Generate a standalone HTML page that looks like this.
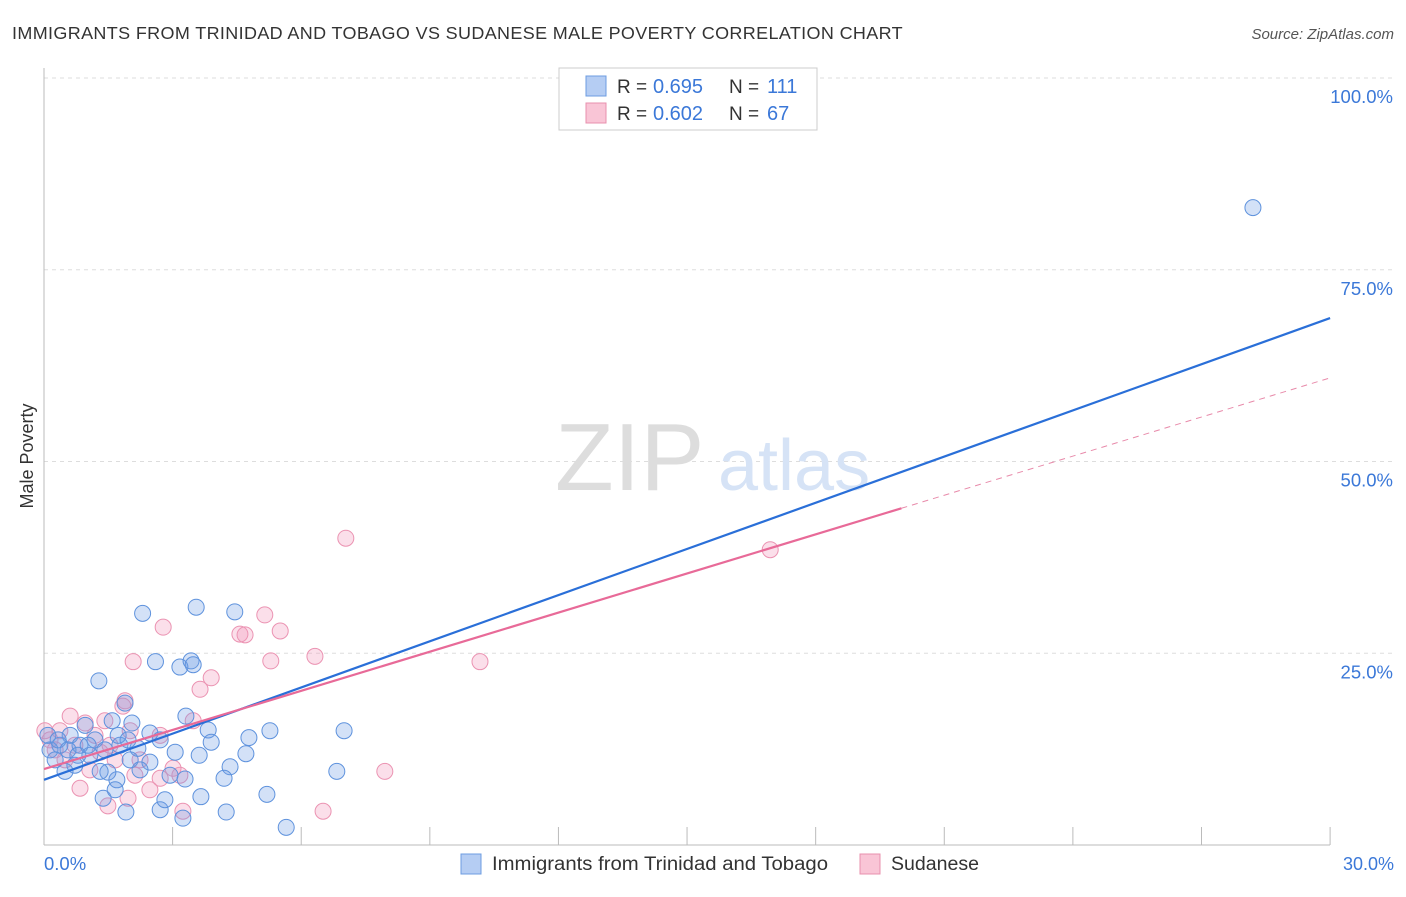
<!DOCTYPE html>
<html><head><meta charset="utf-8"><style>
body{margin:0;background:#fff;font-family:"Liberation Sans",sans-serif;}
svg text{font-family:"Liberation Sans",sans-serif;}
</style></head><body>
<svg width="1406" height="892">
<text x="12" y="39" font-size="17.5" letter-spacing="0.35" fill="#333" textLength="891" lengthAdjust="spacingAndGlyphs">IMMIGRANTS FROM TRINIDAD AND TOBAGO VS SUDANESE MALE POVERTY CORRELATION CHART</text>
<text x="1394" y="39" font-size="15" fill="#555" font-style="italic" text-anchor="end">Source: ZipAtlas.com</text>
<g id="grid"></g>
<text x="555" y="490" font-size="96" fill="#ddd" font-family="Liberation Serif,serif">ZIP</text>
<text x="718" y="490" font-size="72" fill="#d6e3f6">atlas</text>
<line x1="44" y1="68" x2="44" y2="845" stroke="#bbb"/>
<line x1="44" y1="845" x2="1330" y2="845" stroke="#bbb"/>
<text x="33" y="456" font-size="18" fill="#333" text-anchor="middle" transform="rotate(-90 33 456)">Male Poverty</text>
<text x="44" y="870" font-size="18.5" fill="#3b78d8">0.0%</text>
<text x="1394" y="870" font-size="18" fill="#3b78d8" text-anchor="end">30.0%</text>
<g id="pts"></g>
<g id="lines"></g>
<g>
<rect x="559" y="68" width="258" height="62" fill="#fff" stroke="#ccc"/>
<rect x="586" y="76" width="20" height="20" fill="#b5cdf3" stroke="#6d9ce0"/>
<rect x="586" y="103" width="20" height="20" fill="#f9c5d6" stroke="#e890ae"/>
<text x="617" y="93" font-size="19" fill="#333">R =</text>
<text x="653" y="93" font-size="20" fill="#3b78d8">0.695</text>
<text x="729" y="93" font-size="19" fill="#333">N =</text>
<text x="767" y="93" font-size="20" fill="#3b78d8">111</text>
<text x="617" y="120" font-size="19" fill="#333">R =</text>
<text x="653" y="120" font-size="20" fill="#3b78d8">0.602</text>
<text x="729" y="120" font-size="19" fill="#333">N =</text>
<text x="767" y="120" font-size="20" fill="#3b78d8">67</text>
</g>
<g>
<rect x="461" y="854" width="20" height="20" fill="#b5cdf3" stroke="#6d9ce0"/>
<text x="492" y="870" font-size="19" fill="#333" textLength="336" lengthAdjust="spacingAndGlyphs">Immigrants from Trinidad and Tobago</text>
<rect x="860" y="854" width="20" height="20" fill="#f9c5d6" stroke="#e890ae"/>
<text x="891" y="870" font-size="19" fill="#333" textLength="88" lengthAdjust="spacingAndGlyphs">Sudanese</text>
</g>
</svg>
<script>
const yTicks=[25,50,75,100];
const yTickLabels=["25.0%","50.0%","75.0%","100.0%"];
const xTicks=[0,3,6,9,12,15,18,21,24,27,30];
const blueX=[28.2,2.3,3.55,4.45,2.6,3.17,3.43,3.48,1.28,1.89,3.31,3.83,5.27,7.0,4.78,3.9,4.71,3.62,4.34,6.83,4.2,5.2,3.66,4.25,5.65,3.24,2.71,1.91,1.38,1.70,1.49,2.94,2.47,2.19,2.05,1.59,0.96,0.61,0.37,0.14,0.26,0.72,1.07,1.19,1.77,2.71,3.06,1.31,0.49,0.84,2.01,1.66,3.29,2.82,2.24,0.09,0.33,0.56,0.79,1.03,1.42,1.73,1.96,2.47];
const blueY=[83.1,30.2,31.0,30.4,23.9,23.2,24.0,23.5,21.4,18.5,16.8,15.0,14.9,14.9,14.0,13.4,11.9,11.7,10.2,9.6,8.7,6.6,6.3,4.3,2.3,3.5,4.6,4.3,6.1,8.5,9.5,9.1,10.8,12.6,15.9,16.2,15.6,14.3,13.0,12.4,11.1,10.4,11.7,13.7,13.0,13.7,12.1,9.6,9.6,13.0,11.1,7.2,8.6,5.9,9.8,14.3,13.7,12.4,11.7,13.0,12.4,14.3,13.7,14.6];
const pinkX=[7.04,16.94,5.15,2.78,4.57,4.69,5.51,2.08,5.29,6.32,10.17,3.90,3.64,1.89,1.84,3.48,7.95,6.51,3.24,1.96,1.49,0.84,2.47,2.71,3.01,2.24,1.31,0.61,0.96,0.37,0.14,0.02,0.26,0.72,1.19,1.54,2.01,2.71,1.66,1.07,0.49,1.42,2.12,3.17];
const pinkY=[40.0,38.5,30.0,28.4,27.5,27.4,27.9,23.9,24.0,24.6,23.9,21.8,20.3,18.8,18.1,16.2,9.6,4.4,4.4,6.1,5.1,7.4,7.2,8.7,10.0,11.1,12.1,16.8,15.9,14.9,13.7,14.9,12.4,13.0,14.3,13.0,14.9,14.3,11.1,9.8,11.1,16.2,9.1,9.1];
const blueLine=[8.5,68.7];
const pinkLine=[9.9,43.9,60.9];
const X=v=>44+v*42.87, Y=v=>845-v*7.67;
const NS="http://www.w3.org/2000/svg";
function mk(t,a,p){const e=document.createElementNS(NS,t);for(const k in a)e.setAttribute(k,a[k]);p.appendChild(e);return e;}
const grid=document.getElementById('grid');
yTicks.forEach((t,i)=>{
 const l=mk('line',{x1:44,x2:1394,y1:Y(t),y2:Y(t),stroke:'#ddd','stroke-dasharray':'4,4'},grid);
 
 
 const tx=mk('text',{x:1393,y:Y(t)+25,'font-size':18.5,fill:'#3b78d8','text-anchor':'end'},grid);
 tx.textContent=yTickLabels[i];
 
 
});
xTicks.forEach(t=>{
 const l=mk('line',{x1:X(t),x2:X(t),y1:827,y2:845,stroke:'#bbb'},grid);
 
 
});
const pts=document.getElementById('pts');
pinkX.forEach((x,i)=>{
 const c=mk('circle',{cx:X(x),cy:Y(pinkY[i]),r:8,fill:'rgba(243,150,185,0.3)',stroke:'#eb93b2','stroke-width':1},pts);
 
 
});
blueX.forEach((x,i)=>{
 const c=mk('circle',{cx:X(x),cy:Y(blueY[i]),r:8,fill:'rgba(110,155,230,0.3)',stroke:'#5e92dd','stroke-width':1},pts);
 
 
});
const lg=document.getElementById('lines');
let e=mk('line',{x1:X(0),y1:Y(blueLine[0]),x2:X(30),y2:Y(blueLine[1]),stroke:'#2a6fd8','stroke-width':2.2},lg);


e=mk('line',{x1:X(0),y1:Y(pinkLine[0]),x2:X(20),y2:Y(pinkLine[1]),stroke:'#e86a98','stroke-width':2.2},lg);


e=mk('line',{x1:X(20),y1:Y(pinkLine[1]),x2:X(30),y2:Y(pinkLine[2]),stroke:'#e88aaa','stroke-width':1,'stroke-dasharray':'6,5'},lg);


</script>
</body></html>
